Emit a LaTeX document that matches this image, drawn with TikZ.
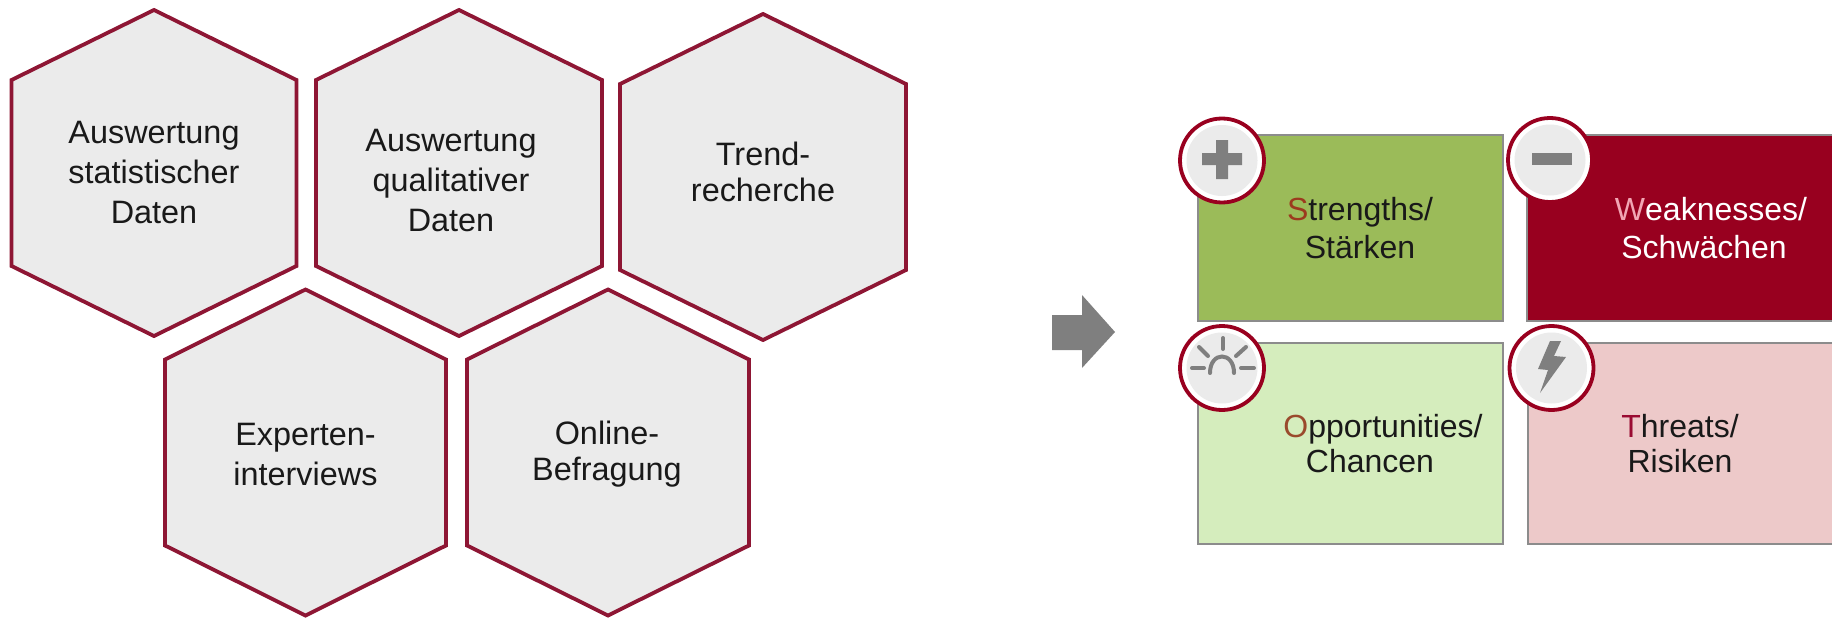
\documentclass[tikz,border=0pt]{standalone}
\usepackage{fontspec}
\setmainfont{Liberation Sans}
\definecolor{hexred}{HTML}{8E1634}
\definecolor{hexgray}{HTML}{EBEBEB}
\definecolor{iconred}{HTML}{99001F}
\definecolor{icongray}{HTML}{7F7F7F}
\definecolor{boxline}{HTML}{8C8C8C}
\definecolor{sgreen}{HTML}{9BBB59}
\definecolor{wred}{HTML}{98001F}
\definecolor{ogreen}{HTML}{D5EDBD}
\definecolor{tpink}{HTML}{EDC9C9}
\definecolor{sletter}{HTML}{9C3A1E}
\definecolor{wletter}{HTML}{F2A6B4}
\definecolor{oletter}{HTML}{9A4A2C}
\definecolor{tletter}{HTML}{9A0B32}

\begin{document}
\begin{tikzpicture}[x=1pt,y=-1pt,
  hex/.style={draw=hexred, fill=hexgray, line width=3.8pt, line join=miter},
  hextext/.style={align=center, text=black!90, font=\fontsize{32.4}{40}\selectfont},
  hexnarrow/.style={hextext, font=\fontsize{32.4}{36}\selectfont},
  swot/.style={draw=boxline, line width=1.2pt},
  swottext/.style={align=center, text=black!90, font=\fontsize{32}{38}\selectfont},
  swotnarrow/.style={swottext, font=\fontsize{32}{35}\selectfont},
  badge/.style={circle, minimum size=84pt, inner sep=0, outer sep=0, draw=iconred, fill=white, line width=3.8pt},
  disc/.style={circle, minimum size=71pt, inner sep=0, outer sep=0, fill=hexgray},
  ray/.style={draw=icongray, line width=4pt, line cap=round}]
\useasboundingbox (0,0) rectangle (1832,618);

% hexagons left
\foreach \x/\y/\w in {154/173/142.5,459/173/143,763/177/143,305.5/452.5/140.5,608/452.5/141}
  \draw[hex] (\x,\y-163) -- (\x+\w,\y-93) -- (\x+\w,\y+93) -- (\x,\y+163) -- (\x-\w,\y+93) -- (\x-\w,\y-93) -- cycle;

\node[hextext] (ta) at (154,173) {Auswertung\\statistischer\\Daten};
\node[hextext] (tb) at (451,181) {Auswertung\\qualitativer\\Daten};
\node[hexnarrow] (tc) at (763,172) {Trend-\\recherche};
\node[hextext] (td) at (305.5,455) {Experten-\\interviews};
\node[hexnarrow] (te) at (607,454) {Online-\\Befragung};

% arrow
\fill[icongray] (1052,315) -- (1082,315) -- (1082,295) -- (1115,332) -- (1082,368) -- (1082,350) -- (1052,350) -- cycle;

% boxes
\draw[swot,fill=sgreen] (1198,135) rectangle (1503,321);
\draw[swot,fill=wred] (1527,135) rectangle (1836,321);
\draw[swot,fill=ogreen] (1198,343) rectangle (1503,544);
\draw[swot,fill=tpink] (1528,343) rectangle (1836,544);

\node[swottext] (ts) at (1360,228) {{\color{sletter}S}trengths/\\St\"arken};
\node[swottext,text=white] (tw) at (1711,228) {{\color{wletter}W}eaknesses/\\Schw\"achen\hspace*{14pt}};
\node[swotnarrow] (to) at (1383,444) {{\color{oletter}O}pportunities/\\Chancen\hspace*{26pt}};
\node[swotnarrow] (tt) at (1680,444) {{\color{tletter}T}hreats/\\Risiken};

% icons
\foreach \n/\x/\y in {plus/1222/160.5,minus/1550/160,sun/1222/368,bolt/1551.5/368}{
  \node[badge] (\n) at (\x,\y) {};
  \node[disc] (\n disc) at (\n) {};
}

\fill[icongray] (1202,153) -- (1216,153) -- (1216,140) -- (1228,140) -- (1228,153) -- (1242,153) -- (1242,165) -- (1228,165) -- (1228,179) -- (1216,179) -- (1216,165) -- (1202,165) -- cycle;
\fill[icongray] (1532,153) rectangle (1572,165);

\draw[ray] (1210,373) .. controls (1210,351) and (1234,351) .. (1234,373);
\foreach \a/\b/\c/\d in {1223/338/1223/349,1199/347/1208/356,1246/347/1236/356,1192/368/1204/368,1241/368/1254/368}
  \draw[ray] (\a,\b) -- (\c,\d);

\fill[icongray] (1550,341) -- (1561,341) -- (1554,356) -- (1566,357) -- (1540,393) -- (1548,370) -- (1538,369) -- cycle;

\end{tikzpicture}
\end{document}
